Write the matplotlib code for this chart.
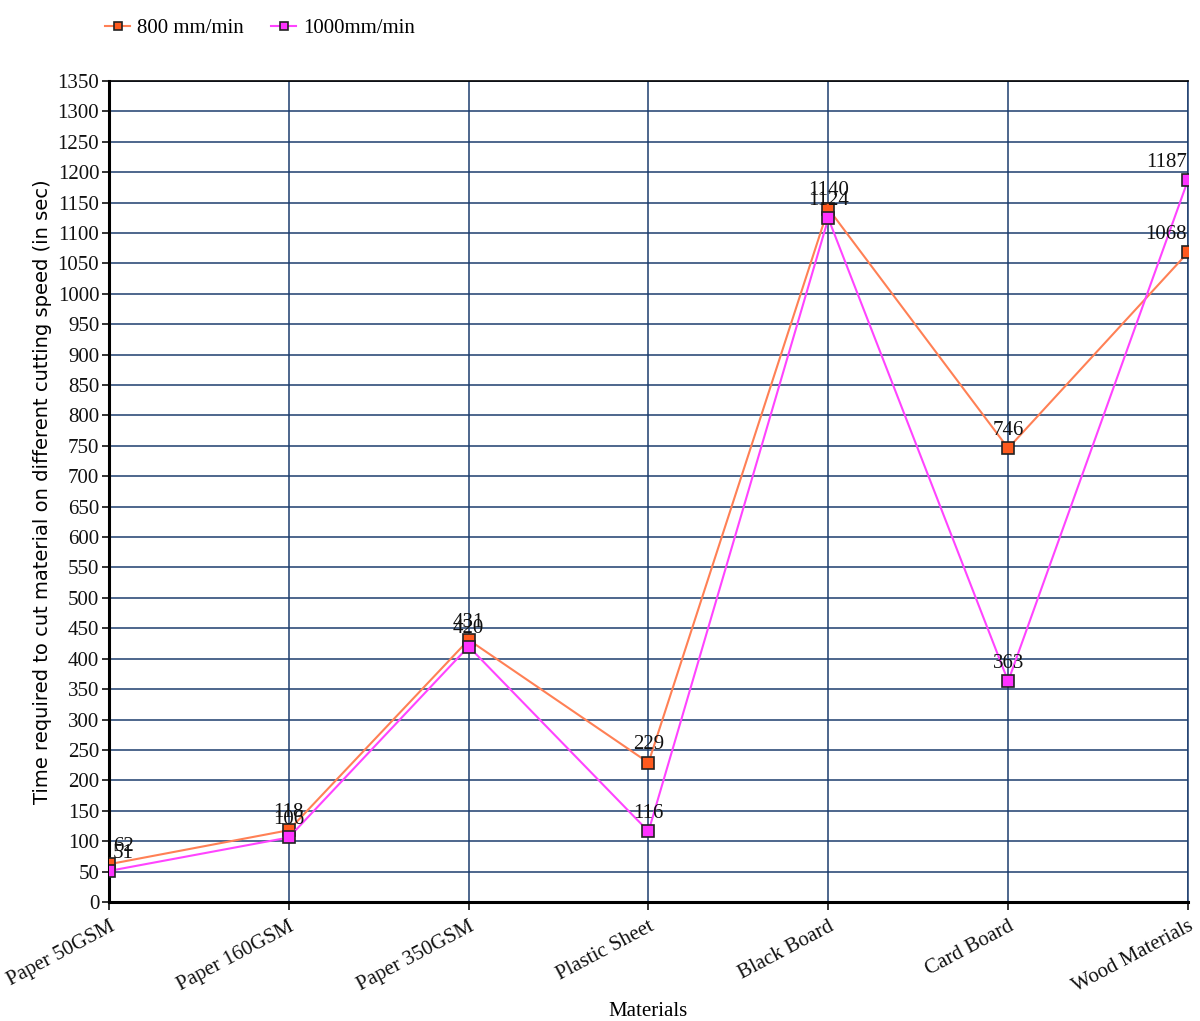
import numpy as np
import matplotlib
matplotlib.use("Agg")
import matplotlib.pyplot as plt

materials = ["Paper 50GSM", "Paper 160GSM", "Paper 350GSM", "Plastic Sheet",
             "Black Board", "Card Board", "Wood Materials"]
speed_800 = [62, 118, 431, 229, 1140, 746, 1068]
speed_1000 = [51, 106, 420, 116, 1124, 363, 1187]

SERIF = "Liberation Serif"
GRID = "#1c3d6e"

fig = plt.figure(figsize=(12, 10.21), dpi=100)
ax = fig.add_axes([0.0908, 0.1166, 0.8992, 0.8041])

x = np.arange(len(materials))
ax.plot(x, speed_800, color="#ff8055", lw=1.5, marker="s", ms=8,
        mfc="#ff5a1e", mec="#222222", mew=1.2, label="800 mm/min", zorder=3)
ax.plot(x, speed_1000, color="#ff44ff", lw=1.5, marker="s", ms=8,
        mfc="#ff33ff", mec="#222222", mew=1.2, label="1000mm/min", zorder=3)

# value labels above each point; the end points are nudged inside the axes
last = len(materials) - 1
for ys in (speed_800, speed_1000):
    for xi, yi in zip(x, ys):
        if xi == 0:
            ha, dx = "left", 3
        elif xi == last:
            ha, dx = "right", -1
        else:
            ha, dx = "center", 0
        ax.annotate(str(yi), (xi, yi), xytext=(dx, 6), textcoords="offset points",
                    ha=ha, va="bottom", fontsize=15, family=SERIF, color="#111111",
                    zorder=4)

ax.set_xlim(0, last)
ax.set_ylim(0, 1350)
ax.set_yticks(np.arange(0, 1351, 50))
ax.set_xticks(x)
ax.set_xticklabels(materials, rotation=28, ha="right", rotation_mode="anchor",
                   fontsize=15, family=SERIF)
for lab in ax.get_yticklabels():
    lab.set_family(SERIF)
    lab.set_fontsize(15)
ax.tick_params(axis="y", length=5, width=1.2, pad=2, colors="#111111")
ax.tick_params(axis="x", length=6, width=1.2, pad=5, colors="#111111")

ax.grid(True, color=GRID, lw=1.1)
ax.set_axisbelow(True)
for side in ["left", "bottom"]:
    ax.spines[side].set_linewidth(2.2)
    ax.spines[side].set_color("black")
ax.spines["top"].set_linewidth(1.2)
ax.spines["right"].set_color(GRID)
ax.spines["right"].set_linewidth(1.1)

ax.set_ylabel("Time required to cut material on different cutting speed (in sec)",
              fontsize=14, family="DejaVu Sans", labelpad=4)
ax.set_xlabel("Materials", fontsize=15, family=SERIF)
ax.xaxis.set_label_coords(0.5, -0.122)

fig.legend(loc="upper left", bbox_to_anchor=(0.072, 1.0), ncol=2, frameon=False,
           prop={"family": SERIF, "size": 15}, handlelength=1.2, handletextpad=0.35,
           columnspacing=1.3, markerscale=0.8)

fig.savefig("out.png", dpi=100)
